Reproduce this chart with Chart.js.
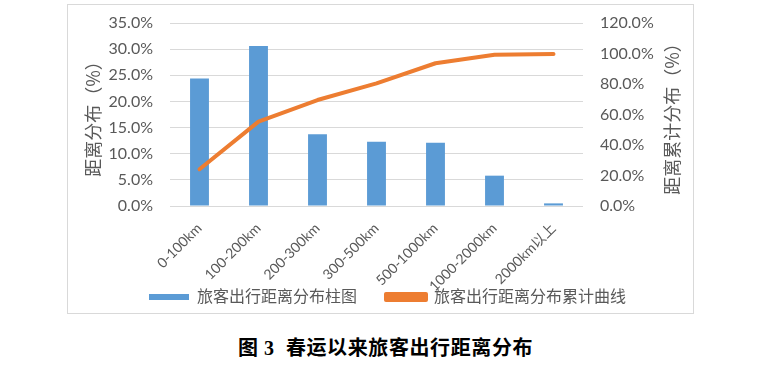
<!DOCTYPE html>
<html>
<head>
<meta charset="utf-8">
<script src="https://cdn.jsdelivr.net/npm/chart.js@4/dist/chart.umd.min.js"></script>
<style>
  html, body { margin: 0; padding: 0; background: #fff; }
  body { width: 771px; height: 375px; position: relative; overflow: hidden; }
  #frame { position: absolute; left: 67px; top: 4px; width: 627px; height: 310px; box-sizing: border-box; border: 1px solid #d9d9d9; }
  #wrap { position: absolute; left: 68px; top: 5px; width: 625px; height: 310px; }
  #caption { position: absolute; left: 0; width: 771px; top: 332px; text-align: center;
    font-family: "Liberation Serif", "Noto Sans CJK SC", serif; font-weight: bold; font-size: 20px; letter-spacing: 0.6px; color: #000; }
</style>
</head>
<body>
<div id="frame"></div>
<div id="wrap"><canvas id="c"></canvas></div>
<div id="caption">图 3&nbsp; 春运以来旅客出行距离分布</div>
<script>
const categories = ['0-100km', '100-200km', '200-300km', '300-500km', '500-1000km', '1000-2000km', '2000km以上'];
const shareValues = [24.4, 30.6, 13.7, 12.3, 12.1, 5.8, 0.5];
const cumulativeValues = [24.1, 55.3, 69.5, 80.4, 93.6, 99.2, 99.7];
const barLabel = '旅客出行距离分布柱图';
const lineLabel = '旅客出行距离分布累计曲线';
const leftTitle = '距离分布（%）';
const rightTitle = '距离累计分布（%）';

const FONT = 'Lato, "Noto Sans CJK SC", sans-serif';
const GREY = '#595959';

const rightTitlePlugin = {
  id: 'rightTitle',
  afterDraw(chart) {
    const ctx = chart.ctx;
    ctx.save();
    ctx.font = '18px "Noto Sans CJK SC", sans-serif';
    ctx.fillStyle = GREY;
    ctx.textAlign = 'center';
    ctx.textBaseline = 'middle';
    ctx.translate(604, (chart.chartArea.top + chart.chartArea.bottom) / 2);
    ctx.rotate(-Math.PI / 2);
    ctx.fillText(rightTitle, 0, 0);
    ctx.restore();
  }
};

new Chart(document.getElementById('c'), {
  data: {
    labels: categories,
    datasets: [
      {
        type: 'bar', label: barLabel, data: shareValues, yAxisID: 'y',
        backgroundColor: '#5b9bd5', borderWidth: 0,
        barPercentage: 0.32, categoryPercentage: 1, order: 1
      },
      {
        type: 'line', label: lineLabel, data: cumulativeValues, yAxisID: 'y1',
        borderColor: '#ed7d31', backgroundColor: '#ed7d31', borderWidth: 4,
        pointRadius: 0, tension: 0, borderCapStyle: 'round', borderJoinStyle: 'round', order: 0
      }
    ]
  },
  options: {
    responsive: true, maintainAspectRatio: false, animation: false,
    layout: { padding: { top: 18, left: 14, right: 0, bottom: 0 } },
    plugins: {
      tooltip: { enabled: false },
      legend: {
        position: 'bottom',
        labels: {
          sort: (a, b) => a.datasetIndex - b.datasetIndex,
          boxWidth: 40, boxHeight: 6, padding: 29,
          color: GREY, font: { family: FONT, size: 16 }
        }
      }
    },
    scales: {
      x: {
        grid: { display: false }, border: { display: false },
        ticks: { color: GREY, font: { family: FONT, size: 14 }, maxRotation: 45, minRotation: 45, padding: 6, autoSkip: false },
        afterFit: (s) => { s.height = 54; s._computeLabelArea = () => undefined; }
      },
      y: {
        position: 'left', min: 0, max: 35,
        grid: { color: '#d9d9d9', drawTicks: true, tickLength: 17, tickColor: 'rgba(0,0,0,0)', lineWidth: 1 }, border: { display: false },
        ticks: { stepSize: 5, color: GREY, padding: 0, font: { family: FONT, size: 16 }, callback: v => v.toFixed(1) + '%' },
        title: { display: true, text: leftTitle, color: GREY, font: { family: '"Noto Sans CJK SC", sans-serif', size: 18 }, padding: { top: 0, bottom: 0 } },
        afterFit: (s) => { s.width = 88; }
      },
      y1: {
        position: 'right', min: 0, max: 120,
        grid: { display: true, drawOnChartArea: false, drawTicks: true, tickLength: 17, tickColor: 'rgba(0,0,0,0)' }, border: { display: false },
        ticks: { stepSize: 20, color: GREY, padding: 0, font: { family: FONT, size: 16 }, callback: v => v.toFixed(1) + '%' },
        title: { display: false, text: rightTitle },
        afterFit: (s) => { s.width = 110; }
      }
    }
  },
  plugins: [rightTitlePlugin]
});
</script>
</body>
</html>
